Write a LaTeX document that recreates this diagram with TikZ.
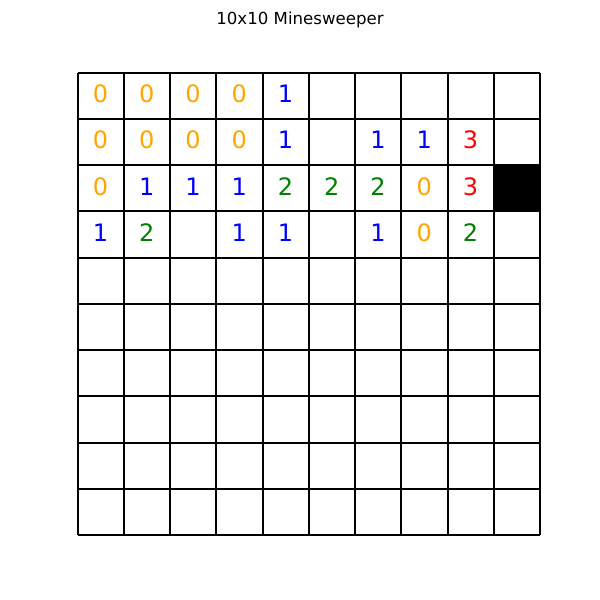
\documentclass[tikz,border=0pt]{standalone}
\usepackage{fontspec}
\setmainfont{DejaVu Sans}
\definecolor{mzero}{RGB}{255,165,0}
\definecolor{mone}{RGB}{0,0,255}
\definecolor{mtwo}{RGB}{0,128,0}
\definecolor{mthree}{RGB}{255,0,0}
\tikzset{
  gridline/.style={line width=2pt, black},
  digit/.style={font=\fontsize{24}{24}\selectfont, inner sep=0pt, anchor=center},
  titletext/.style={font=\fontsize{16.6}{16.6}\selectfont, inner sep=0pt}
}
\begin{document}
\begin{tikzpicture}[x=1pt,y=-1pt]
\useasboundingbox (0,0) rectangle (600,600);
\fill[white] (0,0) rectangle (600,600);
\node[titletext] (title) at (300,20) {10x10 Minesweeper};
% mine cell
\fill[black] (77.5+9*46.25,72.5+2*46.25) rectangle (77.5+10*46.25,72.5+3*46.25);
% grid
\foreach \i in {0,...,10} {
  \draw[gridline] (77.5+\i*46.25,72.5) -- (77.5+\i*46.25,535);
  \draw[gridline] (77.5,72.5+\i*46.25) -- (540,72.5+\i*46.25);
}
% numbers: row/col/value/colour
\foreach \r/\c/\v/\col in {
  0/0/0/mzero,0/1/0/mzero,0/2/0/mzero,0/3/0/mzero,0/4/1/mone,
  1/0/0/mzero,1/1/0/mzero,1/2/0/mzero,1/3/0/mzero,1/4/1/mone,1/6/1/mone,1/7/1/mone,1/8/3/mthree,
  2/0/0/mzero,2/1/1/mone,2/2/1/mone,2/3/1/mone,2/4/2/mtwo,2/5/2/mtwo,2/6/2/mtwo,2/7/0/mzero,2/8/3/mthree,
  3/0/1/mone,3/1/2/mtwo,3/3/1/mone,3/4/1/mone,3/6/1/mone,3/7/0/mzero,3/8/2/mtwo} {
  \node[digit, text=\col] (n\r\c) at (77.5+\c*46.25+23.125, 72.5+\r*46.25+21.4) {\v};
}
\end{tikzpicture}
\end{document}
